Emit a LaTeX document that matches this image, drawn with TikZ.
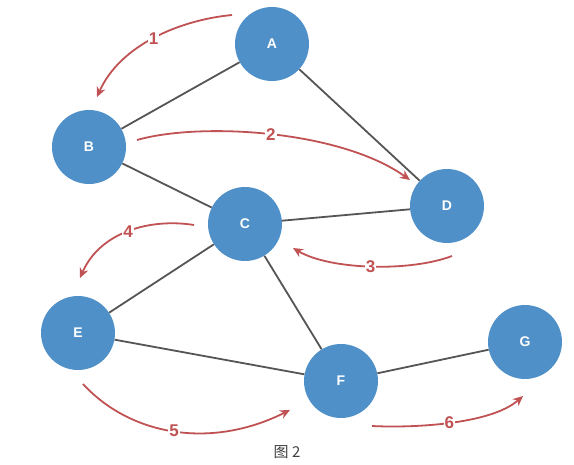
\documentclass[tikz,border=0pt]{standalone}
\usepackage{fontspec}
\setmainfont{Liberation Sans}
\newfontfamily\cjk{Noto Sans CJK SC}
\usetikzlibrary{arrows.meta}
\definecolor{nodeblue}{RGB}{80,144,200}
\definecolor{arrowred}{RGB}{192,82,84}
\definecolor{edgegray}{RGB}{85,85,85}

\begin{document}
\begin{tikzpicture}[x=1pt,y=-1pt,ele/.style={fill=nodeblue,circle,minimum size=74pt,inner sep=0pt,text=white,font=\bfseries\fontsize{14}{14}\selectfont},edge/.style={draw=edgegray,line width=1.8pt},step arrow/.style={draw=arrowred,line width=1.8pt,-{Stealth[length=10pt,width=9pt]}},num/.style={fill=white,text=arrowred,inner sep=1pt,font=\bfseries\fontsize{17}{17}\selectfont}]
            \useasboundingbox (0,0) rectangle (574,465);
            \node[ele] (A) at (272,44) {A};
            \node[ele] (B) at (89,147) {B};
            \node[ele] (C) at (245,224) {C};
            \node[ele] (D) at (447,206) {D};
            \node[ele] (E) at (78,333) {E};
            \node[ele] (F) at (341,381) {F};
            \node[ele] (G) at (525,342) {G};

            \coordinate (s1) at (232,15);  \coordinate (t1) at (97,97);
            \coordinate (s2) at (137,140); \coordinate (t2) at (410,180);
            \coordinate (s3) at (452,256); \coordinate (t3) at (293,248);
            \coordinate (s4) at (194,225); \coordinate (t4) at (80,278);
            \coordinate (s5) at (83,384);  \coordinate (t5) at (290,410);
            \coordinate (s6) at (372,426); \coordinate (t6) at (523,396);

            \draw[edge] (A) -- (B);
            \draw[edge] (A) -- (D);
            \draw[edge] (B) -- (C);
            \draw[edge] (C) -- (D);
            \draw[edge] (C) -- (E);
            \draw[edge] (C) -- (F);
            \draw[edge] (E) -- (F);
            \draw[edge] (F) -- (G);

            \draw[step arrow] (s1) .. controls (180,20) and (120,45) .. node[num] (n1) {1} (t1);
            \draw[step arrow] (s2) .. controls (200,122) and (340,130) .. node[num] (n2) {2} (t2);
            \draw[step arrow] (s3) .. controls (410,272) and (330,270) .. node[num] (n3) {3} (t3);
            \draw[step arrow] (s4) .. controls (150,218) and (100,232) .. node[num] (n4) {4} (t4);
            \draw[step arrow] (s5) .. controls (130,435) and (210,450) .. node[num] (n5) {5} (t5);
            \draw[step arrow] (s6) .. controls (410,428) and (490,425) .. node[num] (n6) {6} (t6);
            \node[text=black!75] (cap) at (287,452) {\cjk\fontsize{15}{15}\selectfont 图 2};
          \end{tikzpicture}
\end{document}
